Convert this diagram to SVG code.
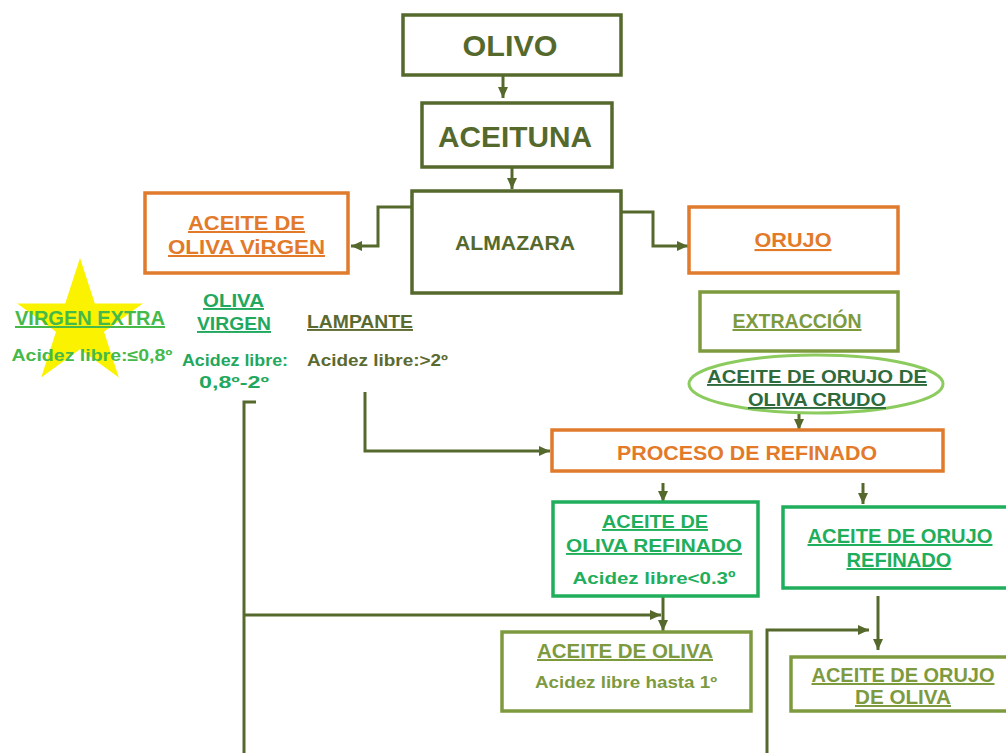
<svg xmlns="http://www.w3.org/2000/svg" width="1006" height="753" viewBox="0 0 1006 753">
  <style>
    text { font-family: "Liberation Sans", Arial, sans-serif; font-weight: bold; text-anchor: middle; }
    .u { text-decoration: underline; }
    .box { fill: #ffffff; stroke-width: 3.5; }
    .olive { stroke: #56692c; }
    .orange { stroke: #e07b2e; }
    .green { stroke: #1fae5b; }
    .lolive { stroke: #7d9a3f; }
    .t-olive { fill: #56692c; }
    .t-orange { fill: #e27a2a; }
    .t-green { fill: #1fae5b; }
    .t-lolive { fill: #7d9a3f; }
    .t-dgreen { fill: #2e6a3c; }
    .t-vextra { fill: #45b94a; }
    .t-ovirgen { fill: #1fa85e; }
    .t-lamp { fill: #5b6a30; }
    .conn { fill: none; stroke: #56692c; stroke-width: 3; }
  </style>
  <defs>
    <marker id="arrow" markerUnits="userSpaceOnUse" markerWidth="12" markerHeight="12" viewBox="0 0 12 12" refX="11" refY="6" orient="auto">
      <path d="M0,1 L11,6 L0,11 z" fill="#56692c"/>
    </marker>
  </defs>

  <rect width="1006" height="753" fill="#ffffff"/>

  <!-- connectors -->
  <g id="connectors">
    <line class="conn" x1="503" y1="75" x2="503" y2="98" marker-end="url(#arrow)"/>
    <line class="conn" x1="512" y1="167" x2="512" y2="189" marker-end="url(#arrow)"/>
    <polyline class="conn" points="412,207 378,207 378,246 351,246" marker-end="url(#arrow)"/>
    <polyline class="conn" points="621,212 653,212 653,246 688,246" marker-end="url(#arrow)"/>
    <line class="conn" x1="799" y1="412" x2="799" y2="430" marker-end="url(#arrow)"/>
    <polyline class="conn" points="365,392 365,451 550,451" marker-end="url(#arrow)"/>
    <line class="conn" x1="663" y1="483" x2="663" y2="502" marker-end="url(#arrow)"/>
    <line class="conn" x1="863" y1="483" x2="863" y2="504" marker-end="url(#arrow)"/>
    <polyline class="conn" points="256,402 244,402 244,753"/>
    <line class="conn" x1="244" y1="615" x2="661" y2="615" marker-end="url(#arrow)"/>
    <line class="conn" x1="663" y1="596" x2="663" y2="631" marker-end="url(#arrow)"/>
    <polyline class="conn" points="767,753 767,630 869,630" marker-end="url(#arrow)"/>
    <line class="conn" x1="878" y1="596" x2="878" y2="650" marker-end="url(#arrow)"/>
  </g>

  <g id="olivo">
    <rect class="box olive" x="403" y="15" width="218" height="60" stroke-width="4"/>
    <text class="t-olive" x="510" y="56" font-size="30" textLength="95" lengthAdjust="spacingAndGlyphs">OLIVO</text>
  </g>

  <g id="aceituna">
    <rect class="box olive" x="422" y="103" width="190" height="64" stroke-width="4"/>
    <text class="t-olive" x="515" y="147" font-size="30" textLength="154" lengthAdjust="spacingAndGlyphs">ACEITUNA</text>
  </g>

  <g id="almazara">
    <rect class="box olive" x="412" y="191" width="209" height="102" stroke-width="4"/>
    <text class="t-olive" x="515" y="250" font-size="21" textLength="120" lengthAdjust="spacingAndGlyphs">ALMAZARA</text>
  </g>

  <g id="aceite-virgen">
    <rect class="box orange" x="145" y="193" width="203" height="80"/>
    <text class="t-orange u" x="246.5" y="230" font-size="20" textLength="117" lengthAdjust="spacingAndGlyphs">ACEITE DE</text>
    <text class="t-orange u" x="246.5" y="254" font-size="20" textLength="157" lengthAdjust="spacingAndGlyphs">OLIVA ViRGEN</text>
  </g>

  <g id="orujo">
    <rect class="box orange" x="689" y="207" width="209" height="66"/>
    <text class="t-orange u" x="793" y="247" font-size="21" textLength="77" lengthAdjust="spacingAndGlyphs">ORUJO</text>
  </g>

  <g id="extraccion">
    <rect class="box lolive" x="700" y="292" width="198" height="59"/>
    <text class="t-lolive u" x="797" y="328" font-size="20" textLength="129" lengthAdjust="spacingAndGlyphs">EXTRACCIÓN</text>
  </g>

  <g id="orujo-crudo">
    <ellipse cx="816" cy="384" rx="127" ry="29" fill="#ffffff" stroke="#8ccb5e" stroke-width="3"/>
    <text class="t-dgreen u" x="817" y="383" font-size="19" textLength="220" lengthAdjust="spacingAndGlyphs">ACEITE DE ORUJO DE</text>
    <text class="t-dgreen u" x="817" y="406" font-size="19" textLength="138" lengthAdjust="spacingAndGlyphs">OLIVA CRUDO</text>
  </g>

  <g id="refinado">
    <rect class="box orange" x="552" y="430" width="391" height="41"/>
    <text class="t-orange" x="747" y="460" font-size="21" textLength="260" lengthAdjust="spacingAndGlyphs">PROCESO DE REFINADO</text>
  </g>

  <g id="oliva-refinado">
    <rect class="box green" x="553" y="502" width="205" height="94"/>
    <text class="t-green u" x="655" y="528" font-size="19" textLength="106" lengthAdjust="spacingAndGlyphs">ACEITE DE</text>
    <text class="t-green u" x="654" y="552" font-size="19" textLength="176" lengthAdjust="spacingAndGlyphs">OLIVA REFINADO</text>
    <text class="t-green" x="654" y="584" font-size="17" textLength="163" lengthAdjust="spacingAndGlyphs">Acidez libre&lt;0.3º</text>
  </g>

  <g id="orujo-refinado">
    <rect class="box green" x="783" y="507" width="230" height="81"/>
    <text class="t-green u" x="900" y="543" font-size="20" textLength="185" lengthAdjust="spacingAndGlyphs">ACEITE DE ORUJO</text>
    <text class="t-green u" x="899" y="567" font-size="20" textLength="105" lengthAdjust="spacingAndGlyphs">REFINADO</text>
  </g>

  <g id="aceite-oliva">
    <rect class="box lolive" x="502" y="632" width="249" height="79"/>
    <text class="t-lolive u" x="625" y="658" font-size="20" textLength="176" lengthAdjust="spacingAndGlyphs">ACEITE DE OLIVA</text>
    <text class="t-lolive" x="626" y="688" font-size="16" textLength="182" lengthAdjust="spacingAndGlyphs">Acidez libre hasta 1º</text>
  </g>

  <g id="orujo-oliva">
    <rect class="box lolive" x="791" y="657" width="222" height="54"/>
    <text class="t-lolive u" x="903" y="682" font-size="20" textLength="183" lengthAdjust="spacingAndGlyphs">ACEITE DE ORUJO</text>
    <text class="t-lolive u" x="903" y="704" font-size="20" textLength="96" lengthAdjust="spacingAndGlyphs">DE OLIVA</text>
  </g>

  <g id="virgen-extra">
    <polygon fill="#fbf200" points="80,258 94.8,303.6 142.8,303.6 104,331.8 118.8,377.4 80,349.2 41.2,377.4 56,331.8 17.2,303.6 65.2,303.6"/>
    <text class="t-vextra u" x="90" y="325" font-size="20" textLength="150" lengthAdjust="spacingAndGlyphs">VIRGEN EXTRA</text>
    <text class="t-vextra" x="92" y="361" font-size="16" textLength="161" lengthAdjust="spacingAndGlyphs">Acidez libre:≤0,8º</text>
  </g>

  <g id="oliva-virgen">
    <text class="t-ovirgen u" x="233.5" y="307" font-size="19" textLength="61" lengthAdjust="spacingAndGlyphs">OLIVA</text>
    <text class="t-ovirgen u" x="234" y="330" font-size="19" textLength="74" lengthAdjust="spacingAndGlyphs">VIRGEN</text>
    <text class="t-ovirgen" x="235" y="366" font-size="16" textLength="106" lengthAdjust="spacingAndGlyphs">Acidez libre:</text>
    <text class="t-ovirgen" x="234" y="388" font-size="16" textLength="70" lengthAdjust="spacingAndGlyphs">0,8º-2º</text>
  </g>

  <g id="lampante">
    <text class="t-lamp u" x="360" y="328" font-size="19" textLength="106" lengthAdjust="spacingAndGlyphs">LAMPANTE</text>
    <text class="t-lamp" x="377.5" y="366" font-size="16" textLength="141" lengthAdjust="spacingAndGlyphs">Acidez libre:&gt;2º</text>
  </g>
</svg>
